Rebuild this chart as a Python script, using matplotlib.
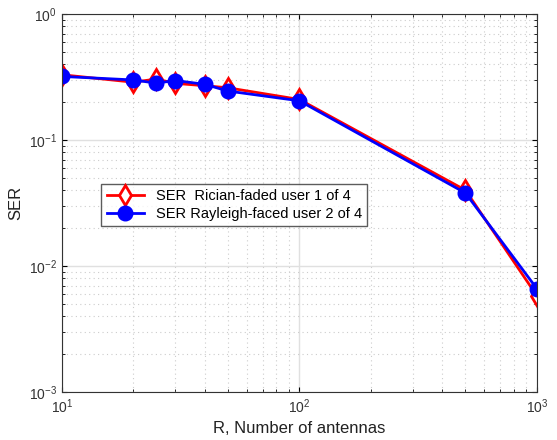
import matplotlib
matplotlib.use('Agg')
import matplotlib.pyplot as plt

plt.rcParams['font.family'] = ['Liberation Sans', 'DejaVu Sans']

antennas = [10, 20, 25, 30, 40, 50, 100, 500, 1000]
ser_rician = [0.330, 0.288, 0.305, 0.282, 0.270, 0.260, 0.210, 0.040, 0.0058]
ser_rayleigh = [0.320, 0.300, 0.283, 0.297, 0.277, 0.245, 0.205, 0.038, 0.0066]

fig = plt.figure(figsize=(5.57, 4.40), dpi=100)
ax = fig.add_axes([0.111, 0.109, 0.853, 0.859])

ax.loglog(antennas, ser_rician, color='red', lw=2, marker='d', ms=10,
          mfc='white', mec='red', mew=2, label='SER  Rician-faded user 1 of 4')
ax.loglog(antennas, ser_rayleigh, color='blue', lw=2, marker='o', ms=10.5,
          mfc='blue', mec='blue', label='SER Rayleigh-faced user 2 of 4')

ax.set_xlim(10, 1000)
ax.set_ylim(1e-3, 1)
ax.grid(True, which='major', color='#e0e0e0', lw=1)
ax.grid(True, which='minor', color='#cccccc', ls=(0, (1, 3)), lw=0.8)
ax.set_axisbelow(True)
ax.tick_params(which='both', direction='in', top=True, right=True,
               labelsize=10, labelcolor='#333333')
for s in ax.spines.values():
    s.set_color('#333333')

ax.set_xlabel('R, Number of antennas', fontsize=12, color='#222222')
ax.set_ylabel('SER', fontsize=12, color='#222222')

leg = ax.legend(loc='upper left', bbox_to_anchor=(0.068, 0.57), fontsize=10.5,
                frameon=True, fancybox=False, edgecolor='#333333',
                handlelength=2.6, borderpad=0.35, labelspacing=0.25)
leg.get_frame().set_linewidth(1)

plt.savefig('out.png', dpi=100)
